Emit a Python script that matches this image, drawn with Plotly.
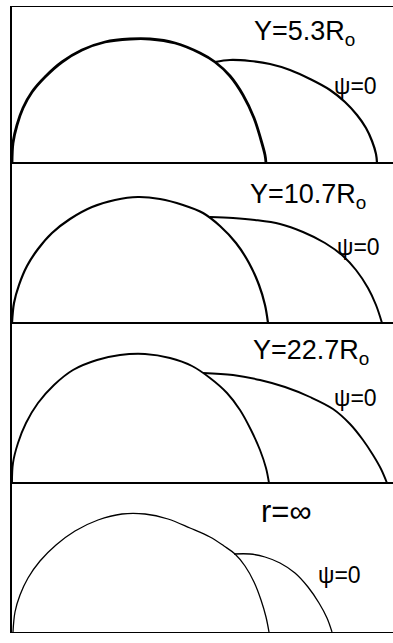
import plotly.graph_objects as go

# Contour of the body (large arc) and the streamline psi=0 for four distances.
# Units: horizontal distance from the left wall / height above the baseline.
big1_x = [0, 1, 5, 11, 20, 33, 50, 70, 93, 118, 138, 163, 188, 203, 218, 231, 242, 249, 253, 254]
big1_y = [0, 20, 38, 55, 71, 86, 101, 113, 121, 124, 124, 120, 110, 101, 87, 68, 45, 23, 8, 0]
psi1_x = [203, 218, 238, 258, 278, 298, 318, 333, 345, 354, 360, 364, 365]
psi1_y = [101, 103, 102, 99, 93, 84, 73, 61, 48, 35, 22, 9, 0]

big2_x = [0, 2, 7, 15, 26, 40, 58, 80, 103, 126, 148, 171, 191, 208, 224, 237, 247, 253, 256]
big2_y = [0, 20, 38, 57, 74, 90, 104, 116, 123, 126, 124, 118, 110, 97, 80, 60, 38, 18, 0]
psi2_x = [198, 221, 243, 268, 291, 313, 331, 344, 356, 364, 370]
psi2_y = [106, 105, 103, 99, 91, 80, 67, 53, 35, 18, 0]

big3_x = [0, 1, 6, 14, 26, 42, 61, 85, 108, 133, 158, 180, 198, 215, 228, 239, 248, 254, 257]
big3_y = [0, 20, 40, 60, 80, 98, 113, 123, 128, 129, 125, 117, 105, 90, 73, 53, 33, 15, 0]
psi3_x = [191, 221, 248, 273, 298, 321, 338, 351, 361, 369, 375]
psi3_y = [110, 108, 103, 96, 86, 74, 59, 43, 28, 14, 0]

big4_x = [1, 3, 8, 16, 28, 44, 63, 86, 110, 133, 156, 178, 198, 212, 223, 233, 242, 249, 254, 257]
big4_y = [0, 20, 37, 54, 71, 87, 101, 112, 118, 118, 113, 104, 95, 86, 78, 66, 50, 32, 15, 0]
psi4_x = [222, 238, 253, 268, 283, 296, 307, 315, 320]
psi4_y = [78, 78, 75, 69, 59, 45, 29, 14, 0]

titles = ["Y=5.3R<sub>o</sub>", "Y=10.7R<sub>o</sub>", "Y=22.7R<sub>o</sub>", "r=∞"]
title_pos = [(292, 130), (296, 127), (299, 131), (274, 121)]
title_size = [27, 27, 27, 31]
psi_label = "ψ=0"
psi_pos = [(343, 77), (346, 76), (343, 85), (327, 57)]

panels = [
    (big1_x, big1_y, psi1_x, psi1_y),
    (big2_x, big2_y, psi2_x, psi2_y),
    (big3_x, big3_y, psi3_x, psi3_y),
    (big4_x, big4_y, psi4_x, psi4_y),
]
big_width = [2.8, 2.2, 1.9, 1.3]
psi_width = [2.2, 2.0, 1.9, 1.3]

W, H = 393, 643
left_px = 12
# panel extents in pixels (top, bottom)
extent = [(7, 163), (163, 323), (323, 483), (483, 632)]

fig = go.Figure()
layout = dict(
    width=W, height=H,
    margin=dict(l=0, r=0, t=0, b=0),
    paper_bgcolor="white", plot_bgcolor="white",
    showlegend=False,
    font=dict(family="Liberation Sans", color="black"),
)

annotations = []
for i, (bx, by, px, py) in enumerate(panels):
    n = i + 1
    xa = "x" if n == 1 else f"x{n}"
    ya = "y" if n == 1 else f"y{n}"
    top, bot = extent[i]
    for cx, cy, lw in ((bx, by, big_width[i]), (px, py, psi_width[i])):
        fig.add_trace(go.Scatter(x=cx, y=cy, mode="lines", xaxis=xa, yaxis=ya,
                                 line=dict(color="black", width=lw,
                                           shape="spline", smoothing=1.0),
                                 hoverinfo="skip", cliponaxis=False))
    layout["xaxis" if n == 1 else f"xaxis{n}"] = dict(
        domain=[left_px / W, 1], range=[0, W - left_px], anchor=ya,
        showgrid=False, zeroline=False, showticklabels=False, ticks="",
        showline=True, linecolor="black", linewidth=1.4, mirror=True,
    )
    layout["yaxis" if n == 1 else f"yaxis{n}"] = dict(
        domain=[1 - bot / H, 1 - top / H], range=[0, bot - top], anchor=xa,
        showgrid=False, zeroline=False, showticklabels=False, ticks="",
        showline=True, linecolor="black", linewidth=1.6,
    )
    tx, ty = title_pos[i]
    annotations.append(dict(x=tx, y=ty, xref=xa, yref=ya, text=titles[i],
                            showarrow=False, font=dict(size=title_size[i])))
    sx, sy = psi_pos[i]
    annotations.append(dict(x=sx, y=sy, xref=xa, yref=ya, text=psi_label,
                            showarrow=False, font=dict(size=23)))

layout["annotations"] = annotations
fig.update_layout(**layout)
fig.write_html("out.html")
